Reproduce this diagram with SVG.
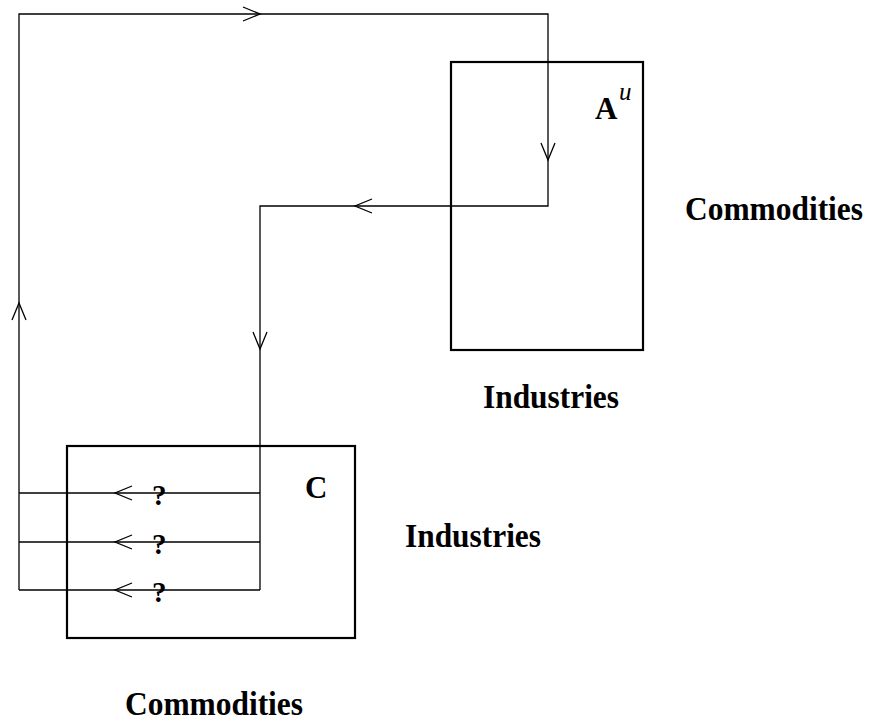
<svg xmlns="http://www.w3.org/2000/svg" width="874" height="723" viewBox="0 0 874 723">
<style>
.box{fill:none;stroke:#000;stroke-width:2.2}
.ln{fill:none;stroke:#000;stroke-width:1.3}
.ah{fill:none;stroke:#000;stroke-width:1.3}
text{font-family:"Liberation Serif","Times New Roman",serif;font-weight:bold;fill:#000}
.lbl{font-size:33px}
.m{font-size:31px}
.q{font-size:29px}
</style>
<rect width="874" height="723" fill="#fff"/>
<g id="Au">
<rect class="box" x="451" y="62" width="192" height="288"/>
<text class="m" x="595" y="119">A</text>
<text x="619" y="100" style="font-size:25px;font-style:italic;font-weight:normal">u</text>
</g>
<g id="C">
<rect class="box" x="67" y="446" width="288" height="192"/>
<text class="m" x="305" y="498">C</text>
</g>
<g id="labels">
<text class="lbl" x="685" y="220" textLength="178" lengthAdjust="spacingAndGlyphs">Commodities</text>
<text class="lbl" x="483" y="408" textLength="136" lengthAdjust="spacingAndGlyphs">Industries</text>
<text class="lbl" x="405" y="547" textLength="136" lengthAdjust="spacingAndGlyphs">Industries</text>
<text class="lbl" x="125" y="715" textLength="178" lengthAdjust="spacingAndGlyphs">Commodities</text>
</g>
<g id="connectors">
<polyline class="ln" points="19,590 19,14 548,14 548,206 260,206 260,590"/>
<line class="ln" x1="19" y1="493" x2="260" y2="493"/>
<line class="ln" x1="19" y1="542" x2="260" y2="542"/>
<line class="ln" x1="19" y1="590" x2="260" y2="590"/>
<polyline class="ah" points="243,7 260,14 243,21"/>
<polyline class="ah" points="541,143 548,160 555,143"/>
<polyline class="ah" points="372,199 355,206 372,213"/>
<polyline class="ah" points="253,332 260,349 267,332"/>
<polyline class="ah" points="12,320 19,303 26,320"/>
<polyline class="ah" points="132,486 115,493 132,500"/>
<polyline class="ah" points="132,535 115,542 132,549"/>
<polyline class="ah" points="132,583 115,590 132,597"/>
<text class="q" x="152" y="505">?</text>
<text class="q" x="152" y="554">?</text>
<text class="q" x="152" y="602">?</text>
</g>
</svg>
